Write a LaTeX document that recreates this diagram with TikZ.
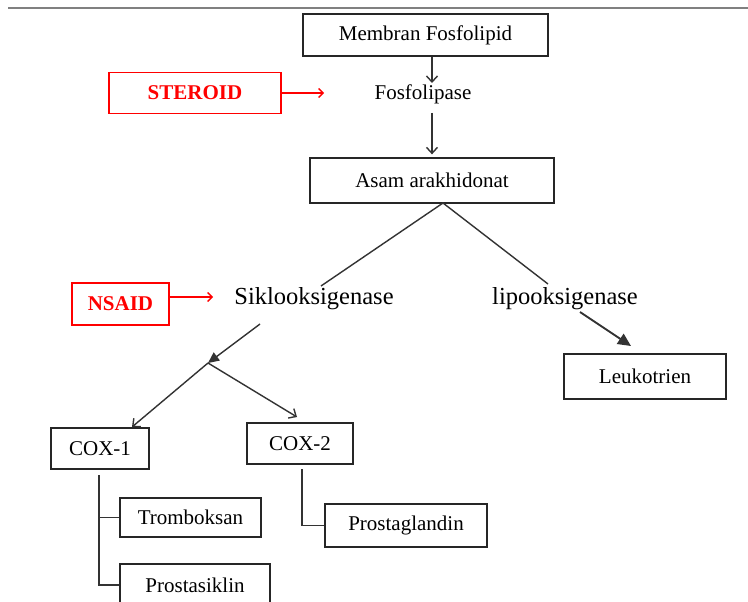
\documentclass[tikz,border=0pt]{standalone}
\usepackage{fontspec}
\setmainfont{Liberation Serif}
\usetikzlibrary{arrows.meta}
\begin{document}
\begin{tikzpicture}[x=1pt,y=-1pt,
 box/.style={draw=black!85,line width=1.3pt,inner sep=0pt,font=\fontsize{21}{25}\selectfont},
 redbox/.style={draw=red,line width=1.3pt,inner sep=0pt,text=red,font=\fontsize{21}{25}\selectfont\bfseries},
 lbl/.style={inner sep=0pt,font=\fontsize{21}{25}\selectfont},
 biglbl/.style={inner sep=0pt,font=\fontsize{24.5}{28}\selectfont},
 conn/.style={draw=black!80,line width=1.4pt},
 openarr/.style={conn,-{Straight Barb[length=6pt,width=11pt]}},
 redarr/.style={draw=red,line width=1.3pt,-{Straight Barb[length=4.5pt,width=9pt]}},
 fillarr/.style={conn,-{Triangle[length=11pt,width=10pt]}},
]
\useasboundingbox (0,0) rectangle (748,602);
\clip (0,0) rectangle (748,602);
\fill[white] (0,0) rectangle (748,602);
% top rule
\coordinate (r1) at (8,8);
\coordinate (r2) at (748,8);
\draw[gray,line width=1.5pt] (r1) -- (r2);

% nodes
\node[box,minimum width=245,minimum height=42] (mem) at (425.5,35) {Membran Fosfolipid};
\node[lbl] (fosf) at (423,94) {Fosfolipase};
\node[redbox,minimum width=172,minimum height=41] (ster) at (195,93) {STEROID};
\node[box,minimum width=244,minimum height=45] (asam) at (432,180.5) {Asam arakhidonat};
\node[biglbl] (siklo) at (314,299) {Siklooksigenase};
\node[biglbl] (lipo) at (565,299) {lipooksigenase};
\node[redbox,minimum width=97,minimum height=42] (nsaid) at (120.5,304) {NSAID};
\node[box,minimum width=162,minimum height=45] (leuko) at (645,376.5) {Leukotrien};
\node[box,minimum width=98,minimum height=41] (cox1) at (100,448.5) {COX-1};
\node[box,minimum width=106,minimum height=41] (cox2) at (300,443.5) {COX-2};
\node[box,minimum width=141,minimum height=39] (trom) at (190.5,517.5) {Tromboksan};
\node[box,minimum width=150,minimum height=42] (prosk) at (195,585) {Prostasiklin};
\node[box,minimum width=162,minimum height=43] (prosg) at (406,525.5) {Prostaglandin};

% coordinates
\coordinate (a1) at (432,83);
\coordinate (a2) at (432,113);
\coordinate (sr) at (324,93);
\coordinate (nr) at (213,297);
\coordinate (apex) at (443,203);
\coordinate (sk) at (321,286);
\coordinate (lp) at (548,284);
\coordinate (s0) at (260,324);
\coordinate (br) at (208,363);
\coordinate (c1t) at (132,427);
\coordinate (c2t) at (297,417);
\coordinate (l0) at (580,312);
\coordinate (l1) at (631,346);
\coordinate (v1) at (99,475);
\coordinate (v2) at (302,469);

% connectors
\draw[openarr] (mem.south -| a1) -- (a1);
\draw[openarr,shorten >=3pt] (a2) -- (asam.north);
\draw[redarr] (ster.east |- sr) -- (sr);
\draw[redarr] (nsaid.east |- nr) -- (nr);
\draw[conn] (sk) -- (apex) -- (lp);
\draw[fillarr] (s0) -- (br);
\draw[openarr] (br) -- (c1t);
\draw[openarr] (br) -- (c2t);
\draw[conn,line width=1.9pt,-{Triangle[length=13pt,width=12pt]}] (l0) -- (l1);
\draw[conn] (v1) |- (prosk.west);
\draw[conn] (v1 |- trom.west) -- (trom.west);
\draw[conn] (v2) |- (prosg.west);
\end{tikzpicture}
\end{document}
